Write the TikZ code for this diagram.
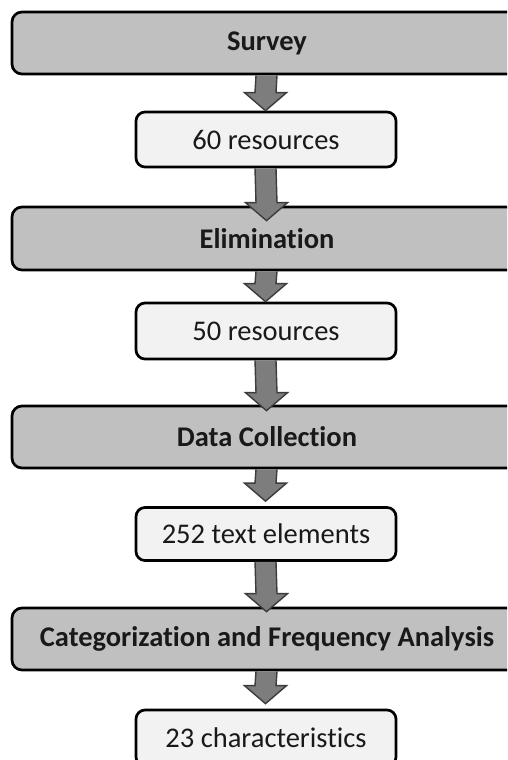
\documentclass[tikz,border=0pt]{standalone}
\usepackage{fontspec}
\setmainfont[Ligatures={NoCommon}]{Carlito}
\usetikzlibrary{calc}
\definecolor{widefill}{RGB}{192,192,192}
\definecolor{smallfill}{RGB}{242,242,242}
\definecolor{arrowfill}{RGB}{125,125,125}
\definecolor{arrowline}{RGB}{60,60,60}
\tikzset{
  widebox/.style={draw=black, line width=2.7pt, fill=widefill, rounded corners=10pt,
    minimum width=510pt, inner sep=0pt, font=\fontsize{28.5}{34}\selectfont\bfseries, text=black!90},
  smallbox/.style={draw=black, line width=2.7pt, fill=smallfill, rounded corners=9pt,
    minimum width=260pt, inner sep=0pt, font=\fontsize{28.5}{34}\selectfont, text=black!90},
  flowfill/.style={fill=arrowfill},
  flowline/.style={draw=arrowline, line width=1.4pt, line join=miter},
}
% #1 source node, #2 target node, #3 tip offset (positive = into target)
\newcommand{\flowarrow}[3]{%
  \coordinate (t) at ($(#2.north)+(-0.5pt,-#3)$);
  \coordinate (s) at ($(#1.south)+(-0.5pt,0)$);
  \fill[flowfill] ($(s)+(-10.5pt,0)$) -- ($(t)+(-10.5pt,18pt)$) -- ($(t)+(-21pt,18pt)$) -- (t)
     -- ($(t)+(21pt,18pt)$) -- ($(t)+(10.5pt,18pt)$) -- ($(s)+(10.5pt,0)$) -- cycle;
  \draw[flowline] ($(s)+(-10.5pt,0)$) -- ($(t)+(-10.5pt,18pt)$) -- ($(t)+(-21pt,18pt)$) -- (t)
     -- ($(t)+(21pt,18pt)$) -- ($(t)+(10.5pt,18pt)$) -- ($(s)+(10.5pt,0)$);
}
\begin{document}
\begin{tikzpicture}[x=1pt,y=1pt]
\clip (0,0) rectangle (507,-760);
\fill[white] (0,0) rectangle (507,-760);
\node[widebox, minimum height=62pt] (survey) at (267,-43) {Survey};
\node[smallbox, minimum height=55pt] (r60) at (266,-139.5) {60 resources};
\node[widebox, minimum height=63pt] (elim) at (267,-238.5) {Elimination};
\node[smallbox, minimum height=56pt] (r50) at (266,-331) {50 resources};
\node[widebox, minimum height=62pt] (data) at (267,-437) {Data Collection};
\node[smallbox, minimum height=53pt] (t252) at (266,-534) {252 text elements};
\node[widebox, minimum height=62pt] (cat) at (267,-639) {Categorization and Frequency Analysis};
\node[smallbox, minimum height=56pt] (c23) at (266,-738) {23 characteristics};
\flowarrow{survey}{r60}{0pt}
\flowarrow{r60}{elim}{15pt}
\flowarrow{elim}{r50}{0pt}
\flowarrow{r50}{data}{6pt}
\flowarrow{data}{t252}{-5pt}
\flowarrow{t252}{cat}{5pt}
\flowarrow{cat}{c23}{-5pt}
\end{tikzpicture}
\end{document}
